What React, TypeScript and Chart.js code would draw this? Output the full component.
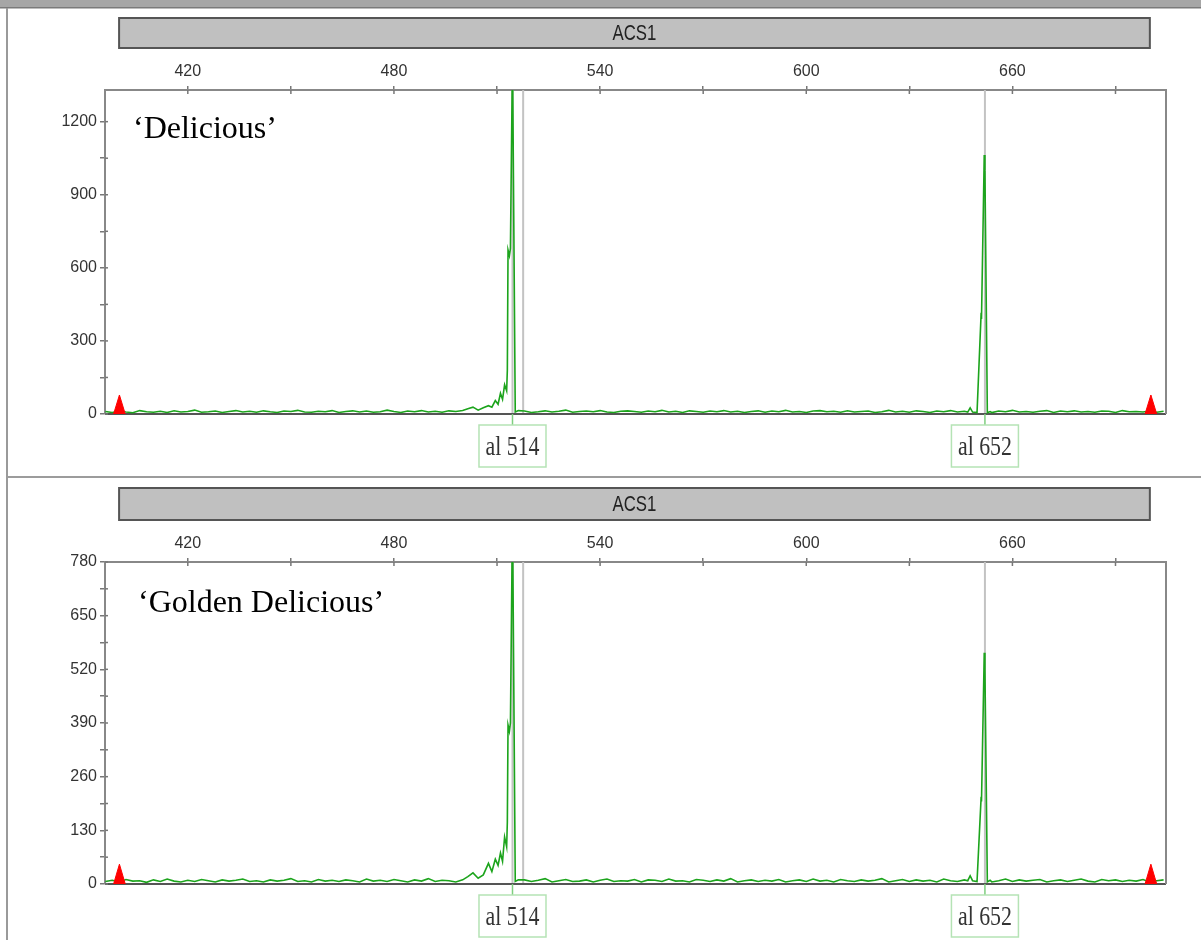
import React, { useEffect, useRef } from 'react';
import { Chart, registerables } from 'chart.js';

Chart.register(...registerables);

// ---------- data ----------
const X_MIN = 395.9;
const X_MAX = 704.7;
const xTicks = [420, 450, 480, 510, 540, 570, 600, 630, 660, 690];
const xLabelStep = 60;

const locusName = 'ACS1';
const locusRange = [400, 700];
const cultivars = ['‘Delicious’', '‘Golden Delicious’'];

const topYMax = 1330;
const topYTicks = [0, 150, 300, 450, 600, 750, 900, 1050, 1200];
const topYLabelStep = 300;
const botYMax = 780;
const botYTicks = [0, 65, 130, 195, 260, 325, 390, 455, 520, 585, 650, 715, 780];
const botYLabelStep = 130;

// baseline noise, one value every 2 bp starting at 396 bp
const noiseStart = 396;
const noiseStep = 2;
const topNoise = [
  10, 6, 12, 8, 5, 14, 9, 7, 11, 6,
  13, 8, 10, 16, 7, 9, 12, 6, 10, 14,
  8, 11, 7, 13, 9, 6, 12, 10, 15, 8,
  7, 11, 9, 14, 6, 10, 13, 8, 12, 7,
  9, 16, 10, 6, 12, 9, 14, 8, 11, 7,
  13, 10, 6, 12, 15, 9, 8, 11, 7, 14,
  10, 12, 6, 9, 13, 8, 11, 16, 7, 10,
  12, 9, 14, 8, 6, 11, 13, 10, 7, 12,
  9, 15, 8, 11, 6, 13, 10, 7, 12, 9,
  14, 8, 11, 6, 10, 13, 7, 12, 9, 15,
  8, 10, 6, 12, 14, 9, 11, 7, 13, 8,
  10, 12, 6, 9, 15, 8, 11, 7, 13, 10,
  6, 12, 9, 14, 8, 11, 7, 10, 13, 6,
  12, 9, 15, 8, 10, 7, 11, 14, 6, 12,
  9, 13, 8, 10, 7, 12, 11, 6, 14, 9,
  10, 8, 12, 7, 11,
];
const botNoise = [
  6, 9, 5, 11, 7, 8, 4, 10, 6, 12,
  7, 5, 9, 6, 11, 8, 5, 10, 7, 9,
  12, 6, 8, 5, 10, 7, 9, 13, 6, 8,
  5, 11, 7, 9, 6, 10, 8, 5, 12, 7,
  9, 6, 11, 8, 5, 10, 7, 13, 6, 9,
  8, 5, 10, 7, 12, 6, 9, 8, 5, 11,
  7, 10, 6, 9, 13, 5, 8, 11, 6, 7,
  10, 5, 9, 12, 6, 8, 7, 11, 5, 10,
  9, 6, 12, 7, 8, 5, 11, 9, 6, 10,
  7, 13, 5, 8, 10, 6, 9, 7, 11, 5,
  8, 10, 6, 12, 7, 9, 5, 11, 8, 6,
  10, 7, 9, 13, 5, 8, 11, 6, 10, 7,
  9, 5, 12, 8, 6, 10, 7, 11, 9, 5,
  8, 12, 6, 10, 7, 9, 11, 5, 8, 10,
  6, 9, 12, 7, 5, 11, 8, 10, 6, 9,
  7, 11, 5, 8, 10,
];

// peaks (bp, RFU)
const topPeak514X = [500, 501.5, 503, 504.5, 506, 507.5, 508.5, 509.5, 510.3, 511, 511.6, 512.2, 512.8, 513.0, 513.2, 513.6, 513.9, 514.5, 515.3, 516.2];
const topPeak514Y = [14, 22, 28, 16, 26, 34, 28, 55, 40, 85, 60, 120, 95, 180, 673, 650, 680, 1480, 8, 14];
const topPeak652X = [647, 647.7, 648.4, 649.7, 650.9, 651.0, 651.8, 652.0, 652.7, 653.5];
const topPeak652Y = [8, 25, 8, 6, 415, 390, 1063, 1000, 5, 10];

const botPeak514X = [500, 501.5, 503, 504.5, 506, 507.5, 508.5, 509.5, 510.3, 511, 511.6, 512.2, 512.8, 513.0, 513.2, 513.6, 513.9, 514.5, 515.3, 516.2];
const botPeak514Y = [10, 18, 27, 14, 22, 50, 30, 60, 45, 75, 55, 114, 90, 150, 385, 370, 390, 900, 6, 10];
const botPeak652X = [647, 647.7, 648.4, 649.7, 650.9, 651.0, 651.8, 652.0, 652.7, 653.5];
const botPeak652Y = [8, 20, 8, 6, 211, 200, 560, 520, 5, 9];

// size standard markers (red)
const stdLeftX = [398.4, 400.1, 401.8];
const stdRightX = [698.6, 700.3, 702.0];
const topStdY = [0, 78, 0];
const botStdY = [0, 48, 0];

const alleleLabels = ['al 514', 'al 652'];
const allelePos = [514.5, 652.0];
const binLines = [514.5, 517.6, 652.0];

// ---------- helpers ----------
type Pt = { x: number; y: number };
function buildTrace(noise: number[], peaks: [number[], number[]][]): Pt[] {
  const pts: Pt[] = [];
  noise.forEach((v, i) => {
    const x = noiseStart + i * noiseStep;
    const inside = peaks.some(([px]) => x >= px[0] && x <= px[px.length - 1]);
    if (!inside) pts.push({ x, y: v });
  });
  peaks.forEach(([px, py]) => px.forEach((x, j) => pts.push({ x, y: py[j] })));
  pts.sort((a, b) => a.x - b.x);
  return pts;
}
const toPts = (xs: number[], ys: number[]) => xs.map((x, i) => ({ x, y: ys[i] }));

const W = 1201;
const SANS = "'Liberation Sans', Arial, sans-serif";
const SERIF = "'Liberation Serif', 'Times New Roman', serif";

interface PanelCfg {
  height: number;
  chartTop: number;
  chartBottom: number;
  barTop: number;
  barBottom: number;
  yMax: number;
  yTicks: number[];
  yStep: number;
  trace: Pt[];
  stdY: number[];
  cultivar: string;
  cultivarX: number;
  cultivarY: number;
  first: boolean;
}

const panels: PanelCfg[] = [
  {
    height: 476, chartTop: 90, chartBottom: 414, barTop: 18, barBottom: 48,
    yMax: topYMax, yTicks: topYTicks, yStep: topYLabelStep,
    trace: buildTrace(topNoise, [[topPeak514X, topPeak514Y], [topPeak652X, topPeak652Y]]),
    stdY: topStdY, cultivar: cultivars[0], cultivarX: 133, cultivarY: 138, first: true,
  },
  {
    height: 464, chartTop: 86, chartBottom: 408, barTop: 12, barBottom: 44,
    yMax: botYMax, yTicks: botYTicks, yStep: botYLabelStep,
    trace: buildTrace(botNoise, [[botPeak514X, botPeak514Y], [botPeak652X, botPeak652Y]]),
    stdY: botStdY, cultivar: cultivars[1], cultivarX: 138, cultivarY: 136, first: false,
  },
];

function makePlugin(p: PanelCfg) {
  return {
    id: 'decor',
    beforeDraw(chart: any) {
      const ctx = chart.ctx as CanvasRenderingContext2D;
      const x = chart.scales.x;
      ctx.save();
      ctx.fillStyle = '#ffffff';
      ctx.fillRect(0, 0, W, p.height);
      if (p.first) {
        ctx.fillStyle = '#a6a6a6';
        ctx.fillRect(0, 0, W, 7);
        ctx.fillStyle = '#7a7a7a';
        ctx.fillRect(0, 7, W, 1.5);
      } else {
        ctx.fillStyle = '#9c9c9c';
        ctx.fillRect(7, 0, W - 7, 2);
      }
      // left frame
      ctx.fillStyle = '#9a9a9a';
      ctx.fillRect(6, p.first ? 8 : 0, 2, p.height);
      // locus bar
      const bx0 = x.getPixelForValue(locusRange[0]);
      const bx1 = x.getPixelForValue(locusRange[1]);
      ctx.fillStyle = '#c0c0c0';
      ctx.fillRect(bx0, p.barTop, bx1 - bx0, p.barBottom - p.barTop);
      ctx.strokeStyle = '#555555';
      ctx.lineWidth = 2;
      ctx.strokeRect(bx0, p.barTop, bx1 - bx0, p.barBottom - p.barTop);
      ctx.save();
      ctx.translate((bx0 + bx1) / 2, (p.barTop + p.barBottom) / 2 + 1);
      ctx.scale(0.84, 1.1);
      ctx.fillStyle = '#222222';
      ctx.font = `20px ${SANS}`;
      ctx.textAlign = 'center';
      ctx.textBaseline = 'middle';
      ctx.fillText(locusName, 0, 0);
      ctx.restore();
      ctx.restore();
    },
    beforeDatasetsDraw(chart: any) {
      const ctx = chart.ctx as CanvasRenderingContext2D;
      const { chartArea, scales } = chart;
      const x = scales.x;
      ctx.save();
      ctx.strokeStyle = 'rgba(195,195,195,1)';
      ctx.lineWidth = 2;
      binLines.forEach((b) => {
        const px = x.getPixelForValue(b);
        ctx.beginPath();
        ctx.moveTo(px, chartArea.top);
        ctx.lineTo(px, chartArea.bottom);
        ctx.stroke();
      });
      ctx.strokeStyle = '#555555';
      ctx.lineWidth = 2;
      ctx.beginPath();
      ctx.moveTo(chartArea.left, chartArea.bottom);
      ctx.lineTo(chartArea.right, chartArea.bottom);
      ctx.stroke();
      ctx.restore();
    },
    afterDraw(chart: any) {
      const ctx = chart.ctx as CanvasRenderingContext2D;
      const { chartArea, scales } = chart;
      const x = scales.x;
      const y = scales.y;
      ctx.save();
      // right border
      ctx.strokeStyle = '#888888';
      ctx.lineWidth = 2;
      ctx.beginPath();
      ctx.moveTo(chartArea.right, chartArea.top - 1);
      ctx.lineTo(chartArea.right, chartArea.bottom);
      ctx.stroke();
      // inner tick parts
      ctx.strokeStyle = '#777777';
      ctx.lineWidth = 1.5;
      x.ticks.forEach((t: any) => {
        const px = x.getPixelForValue(t.value);
        ctx.beginPath();
        ctx.moveTo(px, chartArea.top);
        ctx.lineTo(px, chartArea.top + 4);
        ctx.stroke();
      });
      y.ticks.forEach((t: any) => {
        const py = y.getPixelForValue(t.value);
        ctx.beginPath();
        ctx.moveTo(chartArea.left, py);
        ctx.lineTo(chartArea.left + 3, py);
        ctx.stroke();
      });
      // allele labels
      alleleLabels.forEach((lab, i) => {
        const px = x.getPixelForValue(allelePos[i]);
        const by = chartArea.bottom + 11;
        const bw = 67;
        const bh = 42;
        ctx.strokeStyle = '#7fcf7f';
        ctx.lineWidth = 1.5;
        ctx.beginPath();
        ctx.moveTo(px, chartArea.bottom);
        ctx.lineTo(px, by);
        ctx.stroke();
        ctx.strokeStyle = '#b5e3b5';
        ctx.lineWidth = 1.5;
        ctx.strokeRect(px - bw / 2, by, bw, bh);
        ctx.save();
        ctx.translate(px, by + bh / 2 + 2);
        ctx.scale(0.78, 1);
        ctx.font = `28px ${SERIF}`;
        ctx.fillStyle = '#333333';
        ctx.textAlign = 'center';
        ctx.textBaseline = 'middle';
        ctx.fillText(lab, 0, 0);
        ctx.restore();
      });
      // cultivar name
      ctx.font = `32px ${SERIF}`;
      ctx.fillStyle = '#000000';
      ctx.textAlign = 'left';
      ctx.textBaseline = 'alphabetic';
      ctx.fillText(p.cultivar, p.cultivarX, p.cultivarY);
      ctx.restore();
    },
  };
}

function Panel({ cfg }: { cfg: PanelCfg }) {
  const ref = useRef<HTMLCanvasElement>(null);
  useEffect(() => {
    if (!ref.current) return;
    const p = cfg;
    const chart = new Chart(ref.current, {
      type: 'line',
      data: {
        datasets: [
          {
            data: toPts(stdLeftX, p.stdY),
            borderColor: '#ff0000',
            backgroundColor: '#ff0000',
            borderWidth: 1,
            pointRadius: 0,
            fill: 'origin',
          },
          {
            data: toPts(stdRightX, p.stdY),
            borderColor: '#ff0000',
            backgroundColor: '#ff0000',
            borderWidth: 1,
            pointRadius: 0,
            fill: 'origin',
          },
          {
            data: p.trace,
            borderColor: '#1ca41c',
            borderWidth: 1.6,
            pointRadius: 0,
            fill: false,
          },
        ],
      },
      options: {
        responsive: false,
        animation: false,
        events: [],
        layout: {
          padding: { left: 45, right: W - 1166, top: p.chartTop - 40, bottom: p.height - p.chartBottom },
        },
        plugins: { legend: { display: false }, tooltip: { enabled: false } },
        scales: {
          x: {
            type: 'linear',
            position: 'top',
            min: X_MIN,
            max: X_MAX,
            afterBuildTicks: (s: any) => {
              s.ticks = xTicks.map((v) => ({ value: v }));
            },
            afterFit: (s: any) => {
              s.height = 40;
              s.paddingLeft = 0;
              s.paddingRight = 0;
            },
            ticks: {
              autoSkip: false,
              maxRotation: 0,
              padding: 5,
              color: '#333333',
              font: { family: SANS, size: 16 },
              callback: (v: any) => (Number(v) % xLabelStep === 0 ? String(v) : ''),
            },
            grid: { drawOnChartArea: false, tickLength: 4, color: '#777777', lineWidth: 1.5 },
            border: { display: true, color: '#888888', width: 2 },
          },
          y: {
            type: 'linear',
            min: 0,
            max: p.yMax,
            afterBuildTicks: (s: any) => {
              s.ticks = p.yTicks.map((v) => ({ value: v }));
            },
            afterFit: (s: any) => {
              s.width = 60;
              s.paddingTop = 0;
              s.paddingBottom = 0;
            },
            ticks: {
              autoSkip: false,
              padding: 3,
              color: '#333333',
              font: { family: SANS, size: 16 },
              callback: (v: any) => (Number(v) % p.yStep === 0 ? String(v) : ''),
            },
            grid: { drawOnChartArea: false, tickLength: 5, color: '#777777', lineWidth: 1.5 },
            border: { display: true, color: '#888888', width: 2 },
          },
        },
      },
      plugins: [makePlugin(p)],
    } as any);
    return () => chart.destroy();
  }, [cfg]);
  return <canvas ref={ref} width={W} height={cfg.height} style={{ display: 'block' }} />;
}

export default function App() {
  return (
    <div style={{ position: 'absolute', left: 0, top: 0, width: W, height: 940, background: '#fff', overflow: 'hidden' }}>
      {panels.map((p, i) => (
        <Panel key={i} cfg={p} />
      ))}
    </div>
  );
}
